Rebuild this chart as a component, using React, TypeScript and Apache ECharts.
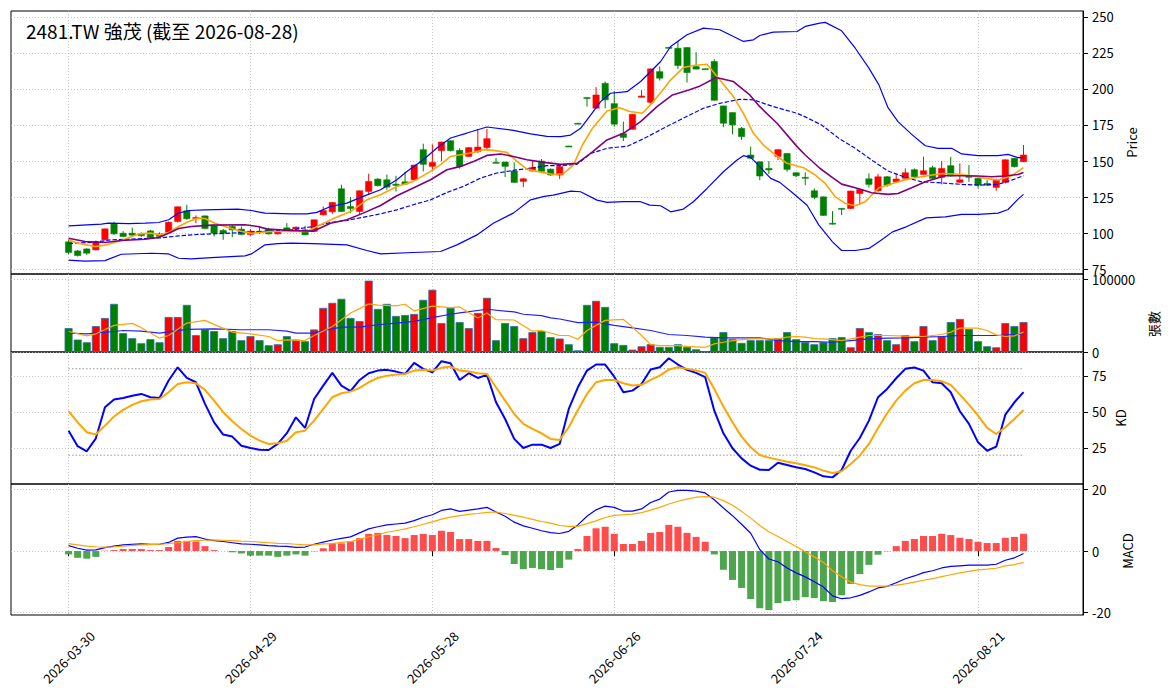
import React, { useEffect, useRef } from 'react';
import * as echarts from 'echarts';

const dates = [
  '2026-03-30', '2026-03-31', '2026-04-01', '2026-04-02', '2026-04-07', '2026-04-08', '2026-04-09', '2026-04-10',
  '2026-04-13', '2026-04-14', '2026-04-15', '2026-04-16', '2026-04-17', '2026-04-20', '2026-04-21', '2026-04-22',
  '2026-04-23', '2026-04-24', '2026-04-27', '2026-04-28', '2026-04-29', '2026-04-30', '2026-05-04', '2026-05-05',
  '2026-05-06', '2026-05-07', '2026-05-08', '2026-05-11', '2026-05-12', '2026-05-13', '2026-05-14', '2026-05-15',
  '2026-05-18', '2026-05-19', '2026-05-20', '2026-05-21', '2026-05-22', '2026-05-25', '2026-05-26', '2026-05-27',
  '2026-05-28', '2026-05-29', '2026-06-01', '2026-06-02', '2026-06-03', '2026-06-04', '2026-06-05', '2026-06-08',
  '2026-06-09', '2026-06-10', '2026-06-11', '2026-06-12', '2026-06-15', '2026-06-16', '2026-06-17', '2026-06-18',
  '2026-06-22', '2026-06-23', '2026-06-24', '2026-06-25', '2026-06-26', '2026-06-29', '2026-06-30', '2026-07-01',
  '2026-07-02', '2026-07-03', '2026-07-06', '2026-07-07', '2026-07-08', '2026-07-09', '2026-07-10', '2026-07-13',
  '2026-07-14', '2026-07-15', '2026-07-16', '2026-07-17', '2026-07-20', '2026-07-21', '2026-07-22', '2026-07-23',
  '2026-07-24', '2026-07-27', '2026-07-28', '2026-07-29', '2026-07-30', '2026-07-31', '2026-08-03', '2026-08-04',
  '2026-08-05', '2026-08-06', '2026-08-07', '2026-08-10', '2026-08-11', '2026-08-12', '2026-08-13', '2026-08-14',
  '2026-08-17', '2026-08-18', '2026-08-19', '2026-08-20', '2026-08-21', '2026-08-24', '2026-08-25', '2026-08-26',
  '2026-08-27', '2026-08-28',
];

const opens = [
  94.0, 87.7, 89.1, 88.4, 95.4, 106.3, 100.0, 100.0, 99.5, 101.6, 99.5, 100.5, 108.1, 115.5, 110.5, 112.0,
  105.1, 101.9, 104.6, 102.8, 99.1, 101.4, 102.8, 99.5, 103.7, 102.8, 102.3, 101.2, 112.7, 114.8, 130.8, 118.5,
  115.0, 128.9, 137.5, 137.0, 134.0, 135.6, 137.0, 157.9, 146.3, 157.2, 164.1, 157.4, 153.2, 156.5, 159.3, 149.1,
  149.3, 143.1, 135.9, 143.1, 150.0, 144.4, 140.3, 160.4, 176.2, 194.0, 186.6, 203.9, 189.8, 169.0, 172.0, 194.2,
  190.7, 212.0, 228.8, 228.2, 228.7, 215.5, 214.0, 219.0, 188.2, 183.6, 172.7, 154.2, 149.5, 144.9, 153.2, 155.3,
  141.9, 138.7, 129.4, 125.2, 106.9, 117.2, 117.1, 127.5, 137.7, 129.4, 139.1, 135.6, 138.0, 144.0, 140.7, 145.4,
  138.7, 146.8, 135.2, 139.6, 138.0, 134.5, 131.7, 135.2, 151.9, 149.5,
];
const closes = [
  86.6, 84.5, 86.1, 94.0, 103.0, 99.5, 97.7, 98.6, 98.2, 96.8, 97.7, 107.6, 118.3, 110.0, 110.9, 103.2,
  100.0, 100.0, 102.3, 99.1, 101.4, 100.5, 99.5, 101.4, 101.4, 104.2, 98.8, 109.3, 115.7, 121.3, 115.0, 117.1,
  129.4, 135.9, 132.9, 131.9, 133.1, 134.0, 147.2, 147.7, 149.1, 163.2, 157.2, 146.3, 159.3, 159.7, 165.5, 148.6,
  146.3, 135.2, 137.7, 145.4, 142.8, 140.3, 146.1, 160.2, 175.9, 193.5, 195.8, 192.4, 175.5, 166.4, 182.4, 195.1,
  213.9, 207.4, 228.6, 216.2, 211.3, 213.7, 213.8, 192.1, 176.2, 175.0, 166.9, 151.9, 139.6, 143.8, 157.9, 144.2,
  139.8, 138.0, 124.8, 112.3, 106.7, 117.1, 129.2, 130.3, 133.8, 139.1, 133.3, 137.5, 141.9, 139.1, 143.3, 138.0,
  144.9, 139.8, 137.0, 138.7, 133.3, 133.3, 136.8, 150.9, 146.1, 154.2,
];
const lows = [
  85.5, 83.8, 85.0, 88.0, 95.0, 98.8, 97.2, 97.7, 97.5, 96.3, 97.2, 100.0, 107.4, 109.3, 106.9, 102.8,
  97.7, 95.4, 97.2, 98.6, 98.1, 99.5, 99.1, 99.1, 100.9, 102.3, 98.6, 101.0, 112.3, 113.4, 114.6, 113.9,
  112.7, 126.6, 132.4, 130.1, 128.9, 133.6, 136.6, 142.8, 142.8, 149.8, 156.7, 144.7, 153.0, 155.6, 157.9, 148.4,
  138.9, 135.0, 131.9, 142.6, 142.1, 139.8, 137.5, 159.9, 175.6, 187.7, 186.6, 186.6, 173.8, 163.9, 171.8, 194.2,
  190.0, 205.8, 228.4, 213.9, 204.4, 213.5, 213.6, 192.0, 173.4, 168.5, 164.6, 151.7, 136.8, 141.0, 150.7, 142.6,
  138.7, 133.3, 123.6, 112.1, 106.0, 112.5, 116.7, 119.9, 131.7, 128.7, 132.2, 135.2, 137.8, 138.9, 140.5, 137.6,
  133.8, 139.2, 134.8, 135.6, 131.0, 132.9, 129.4, 134.5, 145.6, 149.3,
];
const highs = [
  95.5, 88.4, 89.5, 94.9, 103.2, 107.9, 101.4, 103.9, 100.5, 102.3, 100.5, 108.1, 118.5, 119.7, 112.3, 112.3,
  106.0, 103.0, 105.6, 104.6, 102.8, 105.1, 103.7, 102.8, 106.9, 104.6, 105.1, 109.5, 118.5, 121.5, 133.6, 125.0,
  129.6, 141.2, 138.2, 140.7, 139.8, 142.6, 147.4, 162.0, 161.6, 163.4, 164.3, 158.8, 159.7, 172.2, 172.2, 152.1,
  149.5, 149.1, 138.2, 150.0, 151.4, 144.8, 146.5, 160.6, 176.4, 194.2, 201.2, 205.1, 198.6, 177.3, 182.6, 199.1,
  214.1, 215.5, 229.0, 233.3, 228.9, 225.5, 214.2, 220.6, 188.4, 183.8, 173.6, 160.0, 149.7, 150.0, 158.1, 155.5,
  142.1, 142.1, 131.0, 125.4, 115.3, 117.3, 129.4, 130.5, 141.4, 141.0, 139.6, 140.7, 144.9, 144.9, 153.0, 146.8,
  150.0, 153.0, 148.4, 147.2, 138.2, 136.8, 137.9, 151.1, 152.3, 161.1,
];

const volumes = [
  32900, 17100, 13400, 35650, 46800, 66200, 25900, 19000, 12000, 17600, 13400, 48150, 48150, 64800, 23150, 31000,
  28700, 19000, 28700, 16200, 21800, 16200, 9260, 10650, 21800, 17100, 14800, 31000, 60650, 67600, 73150, 46800,
  42600, 98150, 59300, 66200, 49550, 50900, 52300, 71750, 85650, 39800, 60650, 41200, 32900, 53700, 74550, 16200,
  39800, 35650, 19000, 27300, 28700, 20400, 18500, 10650, 2300, 64800, 70400, 62000, 12000, 9700, 3240, 7870,
  10650, 6950, 6950, 10650, 6950, 3700, 600, 19900, 27300, 18000, 12500, 16200, 16200, 16200, 19000, 27300,
  17600, 13400, 10650, 13400, 19000, 20400, 6480, 32900, 27300, 24500, 16200, 10650, 23150, 14800, 35650, 16200,
  21800, 41200, 45400, 31500, 14800, 7870, 6480, 39800, 35650, 41200,
];

// [day index, value]
const bbUpper = [
  [0, 105.1], [3.6, 106.3], [4.4, 107.0], [6.6, 106.6], [8.4, 107.0], [9.9, 107.4], [11, 109.3], [12.1, 113.9],
  [13.2, 115.7], [15, 116.2], [18.6, 116.7], [20.1, 115.7], [21.6, 113.9], [24.5, 113.4], [26.2, 113.4], [27.3, 114.4],
  [28.8, 118.5], [30.6, 120.8], [32.4, 125.5], [34.3, 130.1], [36.1, 137.0], [37.2, 142.8], [39, 150.9], [40.5, 159.0],
  [42, 166.0], [43.8, 169.4], [46, 173.6], [48.9, 171.3], [50.8, 168.8], [52.6, 167.1], [54.1, 166.9], [55.2, 168.0],
  [56.3, 172.7], [57.4, 181.9], [58.5, 191.2], [59.6, 197.0], [61.4, 198.1], [62.9, 205.1], [65.1, 219.0], [66.2, 229.4],
  [68, 237.5], [69.8, 242.1], [71.6, 241.0], [73.1, 236.3], [74.2, 232.9], [75.3, 234.0], [76, 237.0], [77.5, 239.4],
  [80.1, 239.8], [81, 243.3], [82.6, 245.6], [83.2, 246.1], [85, 240.3], [86.5, 228.2], [88, 214.4], [89.1, 202.8],
  [90.1, 187.0], [91.2, 177.3], [92.7, 168.5], [94.2, 160.6], [95.6, 158.8], [97.1, 158.8], [98.2, 154.9], [100, 153.7],
  [102.2, 153.7], [103.3, 154.6], [104.4, 152.3], [105, 152.3],
];
const bbLower = [
  [0, 81.3], [1.8, 80.6], [4, 81.0], [5.8, 85.4], [9.1, 86.1], [11, 85.6], [12.1, 82.6], [13.5, 82.2],
  [15.7, 83.1], [19.4, 84.3], [20.1, 85.6], [21.6, 91.9], [23, 92.8], [24.5, 93.1], [26.9, 92.8], [30.6, 91.9],
  [32.8, 88.0], [34.3, 85.6], [37.9, 86.6], [40.9, 87.3], [42.7, 91.9], [44.9, 98.8], [46.7, 106.9], [48.9, 113.9],
  [50.8, 123.1], [52.3, 125.5], [53.3, 126.4], [55.2, 129.2], [56.3, 128.7], [58.1, 122.9], [59.2, 121.3], [61, 121.8],
  [62.9, 121.8], [63.9, 119.4], [65.1, 119.0], [66.2, 114.8], [67.6, 116.7], [68.7, 121.8], [70.2, 131.0], [72, 142.6],
  [73.5, 150.7], [74.2, 153.7], [75, 152.5], [76, 146.1], [77.2, 138.0], [78.2, 135.2], [79.7, 127.5], [81.2, 119.4],
  [82.5, 105.6], [84, 94.0], [85, 88.0], [86.5, 88.0], [88, 89.4], [89.1, 94.0], [90.6, 100.9], [92.1, 104.4],
  [94.3, 110.6], [96.4, 111.3], [98.2, 113.0], [100, 113.0], [102.2, 113.9], [103.3, 116.4], [104.4, 123.6], [105, 126.9],
];
const bbMid = [
  [0, 92.8], [2.9, 93.8], [4.7, 95.4], [8.4, 96.3], [10.2, 96.8], [12.1, 98.1], [14.2, 99.1], [15.7, 99.5],
  [19.4, 100.5], [24.5, 102.3], [26.9, 104.6], [28.8, 107.4], [30.6, 108.8], [34.3, 113.4], [36.1, 116.2], [37.9, 119.7],
  [39.8, 123.1], [41.6, 128.2], [43.4, 132.4], [45.3, 138.2], [47.1, 141.7], [48.9, 143.5], [50.8, 145.1], [52.6, 146.8],
  [54.1, 146.8], [55.9, 147.7], [57.4, 155.3], [59.2, 158.8], [61.5, 160.4], [63.3, 165.7], [65.4, 172.7], [67.2, 178.5],
  [69.8, 186.6], [71.6, 190.0], [73.8, 192.8], [75.3, 192.4], [77.5, 187.7], [80.1, 183.1], [81, 180.6], [82.8, 175.0],
  [84.7, 165.7], [86.5, 158.8], [88.3, 150.7], [90.1, 143.1], [92, 138.7], [93.8, 135.6], [95.6, 135.0], [98.2, 133.8],
  [100, 133.3], [102.2, 133.8], [103.7, 136.8], [105, 139.8],
];
const ma5 = [
  [0, 95.4], [1, 93.1], [2.9, 90.7], [4, 91.7], [5.8, 94.9], [7.7, 99.5], [9.1, 100.0], [10, 98.8],
  [11, 100.5], [12.1, 104.6], [13.2, 108.1], [14.2, 110.4], [15, 110.2], [16.1, 106.9], [17.2, 104.6], [19, 101.2],
  [20.1, 100.0], [22.3, 101.2], [24.5, 101.2], [26.2, 101.2], [27.3, 104.6], [29.2, 110.4], [31, 115.0], [32.8, 123.1],
  [34.3, 126.6], [36.1, 132.4], [37.9, 135.9], [39.8, 142.8], [40.9, 147.5], [42, 153.2], [43.1, 154.4], [44.6, 156.0],
  [45.6, 157.9], [46.7, 157.4], [48.2, 156.0], [49.3, 149.8], [50.4, 144.4], [51.9, 142.3], [53.3, 140.7], [54.4, 141.2],
  [55.5, 147.2], [56.5, 161.1], [57.6, 172.7], [59.2, 184.7], [60.6, 187.0], [61.7, 184.3], [63.1, 183.1], [64.3, 191.2],
  [65.4, 199.8], [66.2, 206.3], [67.6, 214.8], [68.7, 216.2], [70.2, 217.1], [71.3, 208.6], [73.1, 194.7], [74.2, 183.1],
  [75.3, 169.2], [76.4, 161.1], [77.5, 155.3], [79, 148.4], [80.8, 145.4], [82.1, 140.3], [83.2, 134.5], [84.3, 125.2],
  [85.4, 120.6], [86.5, 119.0], [87.6, 121.8], [89.1, 131.5], [90.6, 134.5], [92.1, 137.3], [93.8, 139.1], [96, 141.4],
  [97.4, 141.0], [99.3, 139.8], [100.8, 138.0], [102.2, 136.8], [103.7, 139.8], [105, 145.4],
];
const ma10 = [
  [0, 96.5], [1.8, 94.2], [4, 93.5], [5.8, 94.9], [8.4, 95.8], [9.9, 97.0], [11, 100.0], [12.1, 103.2],
  [13.5, 104.6], [15.7, 105.6], [19.4, 105.8], [20.8, 104.6], [21.9, 102.8], [24.5, 101.9], [26.9, 101.4], [28.8, 106.9],
  [30.6, 109.3], [32.4, 113.9], [34.3, 119.2], [36.1, 125.9], [37.9, 131.3], [39.8, 137.0], [41.6, 144.0], [43.1, 146.3],
  [44.6, 149.8], [46, 153.9], [47.5, 154.9], [48.9, 153.2], [50.4, 150.9], [52.3, 149.1], [54.1, 147.7], [55.9, 148.4],
  [57.4, 155.3], [59.2, 164.6], [61, 169.2], [62.9, 177.3], [64.7, 187.7], [66.4, 195.8], [68.2, 199.3], [69.3, 201.6],
  [71.2, 207.9], [73.1, 205.1], [74.9, 195.8], [76, 187.7], [77.9, 176.2], [80.1, 160.0], [81, 154.2], [82.6, 145.0],
  [84, 138.5], [85, 134.0], [86.8, 131.0], [88.3, 128.0], [90.1, 126.9], [91.2, 127.5], [92.7, 131.5], [94.2, 135.6],
  [96.4, 139.8], [98.2, 139.8], [100, 139.6], [101.5, 139.1], [102.9, 139.6], [104.4, 140.7], [105, 142.1],
];

const volFast = [
  [0, 28200], [2, 22200], [3, 25000], [5, 36600], [7, 39400], [8, 33300], [10, 19000], [11, 22700],
  [13, 39800], [15, 43500], [16, 38000], [18, 27300], [20, 25000], [22, 21300], [23, 15700], [24, 16700],
  [26, 15700], [27, 22700], [29, 35200], [31, 53700], [32, 59700], [33, 66200], [34, 64400], [36, 63400],
  [37, 65700], [38, 56500], [40, 63000], [42, 61100], [43, 62000], [45, 46800], [46, 53700], [47, 44400],
  [49, 44000], [51, 28700], [52, 29600], [54, 22700], [55, 22700], [56, 17600], [57, 29600], [58, 36600],
  [59, 43500], [61, 44900], [62, 34300], [63, 22700], [64, 10200], [65, 8800], [67, 8800], [68, 7870],
  [70, 6480], [71, 11100], [72, 13400], [73, 15700], [75, 18000], [77, 18000], [78, 18000], [79, 20400],
  [80, 21300], [81, 20400], [82, 18500], [83, 18000], [85, 15700], [87, 20400], [88, 22700], [90, 22700],
  [92, 21800], [94, 21300], [96, 24100], [97, 27300], [98, 32900], [99, 32900], [100, 32900], [101, 29600],
  [102, 23600], [103, 21300], [104, 22200], [105, 27300],
];
const volSlow = [
  [0, 25900], [2, 25000], [5, 28200], [6, 29600], [8, 28700], [10, 25900], [13, 31000], [16, 31900],
  [19, 30600], [22, 30600], [24, 28700], [25, 25900], [27, 25900], [28, 29600], [30, 34300], [32, 34300],
  [34, 37500], [36, 39800], [38, 42100], [40, 47200], [42, 51900], [43, 53700], [46, 58800], [49, 55100],
  [50, 51900], [52, 50000], [53, 47000], [54, 45400], [56, 40300], [58, 41200], [60, 36600], [62, 33300],
  [64, 29600], [66, 24100], [68, 22700], [70, 20400], [72, 19400], [74, 19400], [76, 19400], [78, 15700],
  [80, 14400], [82, 14400], [84, 13400], [86, 15700], [88, 18000], [90, 19000], [92, 19400], [94, 20400],
  [96, 21300], [98, 22700], [100, 22700], [102, 22700], [104, 24100], [105, 25000],
];

const kValues = [
  37.0, 26.2, 22.7, 31.7, 53.2, 58.6, 59.7, 61.3, 62.5, 60.2, 59.7, 71.8, 81.0, 73.6, 70.6, 55.6,
  42.8, 34.3, 32.9, 26.6, 25.0, 23.8, 23.6, 27.8, 35.3, 46.3, 38.9, 59.0, 68.3, 77.1, 68.3, 64.4,
  72.2, 76.9, 78.7, 79.2, 78.0, 76.4, 84.0, 79.9, 77.5, 85.2, 83.8, 72.2, 76.9, 73.6, 75.7, 56.7,
  45.1, 31.3, 25.0, 27.3, 27.3, 25.0, 27.8, 52.1, 67.1, 78.7, 82.9, 82.9, 74.5, 63.7, 64.8, 69.4,
  79.4, 81.0, 87.3, 82.9, 79.2, 77.1, 74.1, 50.9, 35.2, 24.8, 17.8, 12.7, 9.9, 9.7, 14.8, 13.2,
  11.6, 10.4, 8.1, 5.3, 4.6, 9.7, 23.1, 31.9, 44.0, 60.2, 66.0, 73.4, 79.9, 80.8, 78.7, 70.6,
  69.9, 63.7, 50.5, 41.7, 28.9, 23.1, 25.9, 48.1, 56.7, 63.7,
];
const dValues = [
  50.5, 42.8, 35.9, 34.3, 40.5, 46.8, 51.4, 54.9, 57.4, 58.6, 59.0, 63.7, 69.4, 70.6, 69.9, 65.3,
  57.9, 49.8, 43.5, 38.2, 33.6, 30.1, 27.8, 28.2, 30.0, 35.9, 37.0, 44.0, 52.1, 60.2, 63.0, 64.1,
  66.7, 70.6, 73.6, 75.2, 75.9, 76.4, 78.7, 79.2, 78.7, 80.6, 81.5, 78.7, 78.0, 76.9, 76.4, 67.1,
  57.9, 48.6, 41.7, 38.2, 35.2, 31.3, 30.6, 39.4, 51.4, 62.5, 70.6, 72.2, 72.2, 69.9, 68.3, 68.8,
  72.2, 75.2, 79.4, 81.0, 79.9, 78.7, 77.1, 66.0, 53.7, 42.8, 32.9, 25.5, 20.1, 18.3, 16.9, 15.5,
  14.4, 13.0, 11.5, 9.3, 7.6, 8.8, 13.9, 19.7, 27.8, 38.7, 49.1, 57.9, 64.8, 69.9, 72.2, 72.2,
  71.3, 68.8, 62.0, 55.1, 47.5, 38.9, 34.7, 39.4, 45.1, 51.4,
];

const difValues = [
  1.75, 0.9, 0.3, 0.4, 1.1, 1.6, 2.0, 2.2, 2.3, 2.2, 2.2, 2.8, 4.2, 4.5, 4.7, 3.9,
  3.4, 3.1, 2.7, 2.3, 2.2, 2.0, 1.75, 1.6, 1.5, 1.2, 1.3, 2.2, 2.9, 3.6, 4.1, 4.6,
  5.9, 7.2, 7.9, 8.5, 8.8, 9.1, 9.9, 11.0, 11.8, 13.2, 13.7, 12.9, 13.3, 13.7, 14.2, 12.7,
  11.3, 9.4, 8.2, 7.4, 6.6, 6.0, 5.7, 6.4, 8.5, 11.3, 13.4, 14.6, 14.2, 13.0, 13.0, 13.7,
  15.8, 16.9, 19.2, 19.7, 19.7, 19.5, 18.9, 16.7, 14.0, 11.5, 8.7, 5.8, 0.5, -2.6, -3.5, -5.5,
  -7.1, -8.4, -10.0, -11.7, -14.6, -15.5, -15.2, -14.4, -13.3, -12.0, -11.5, -10.3, -9.0, -8.1, -7.0, -6.4,
  -5.5, -5.0, -4.8, -4.6, -4.6, -4.6, -4.3, -3.0, -2.2, -0.8,
];
const deaValues = [
  2.4, 2.0, 1.6, 1.4, 1.3, 1.4, 1.6, 1.8, 2.0, 2.1, 2.2, 2.4, 2.7, 3.1, 3.4, 3.5,
  3.6, 3.5, 3.4, 3.2, 3.1, 2.9, 2.7, 2.5, 2.4, 2.2, 2.0, 2.0, 2.3, 2.4, 2.8, 3.1,
  3.8, 4.6, 5.3, 6.1, 6.6, 7.2, 7.9, 8.7, 9.5, 10.4, 11.0, 11.5, 11.9, 12.2, 12.6, 12.7,
  12.2, 11.6, 11.0, 10.3, 9.6, 9.1, 8.3, 8.0, 8.0, 8.9, 9.8, 10.9, 11.6, 11.8, 12.0, 12.5,
  13.3, 14.2, 15.3, 16.2, 16.9, 17.5, 17.7, 17.5, 16.4, 14.9, 12.9, 10.7, 8.3, 6.3, 4.7, 3.1,
  1.5, -0.2, -1.9, -3.7, -6.4, -8.4, -10.1, -10.9, -11.4, -11.4, -11.4, -11.1, -10.7, -10.1, -9.5, -9.0,
  -8.3, -7.7, -7.1, -6.6, -6.1, -5.9, -5.6, -4.8, -4.4, -3.7,
];
const histValues = [
  -1.1, -2.2, -2.5, -1.9, 0.1, 0.3, 0.65, 0.65, 0.65, 0.3, 0.3, 1.3, 3.3, 3.3, 3.1, 1.6,
  0.3, 0.0, -0.4, -0.8, -1.5, -1.5, -1.5, -1.9, -1.5, -1.1, -1.5, -0.1, 0.9, 2.5, 2.5, 3.1,
  4.2, 5.6, 5.9, 5.2, 4.9, 4.2, 5.2, 5.6, 5.2, 6.6, 6.2, 3.9, 3.9, 3.3, 3.3, 1.0,
  -1.3, -4.2, -5.9, -5.5, -5.9, -6.2, -5.5, -2.8, 0.65, 4.9, 7.4, 7.9, 5.6, 2.3, 2.3, 3.3,
  5.9, 6.2, 8.5, 7.9, 5.9, 4.6, 3.0, -1.1, -6.1, -9.4, -12.0, -15.6, -18.6, -19.2, -16.9, -16.3,
  -16.0, -15.0, -15.3, -16.3, -16.6, -14.4, -10.7, -7.5, -4.5, -1.2, -0.1, 1.6, 3.3, 3.9, 4.9, 4.9,
  5.6, 5.2, 4.3, 3.9, 3.0, 2.6, 2.6, 4.3, 4.6, 5.6,
];

const dateTicks = [0, 20, 40, 60, 80, 100];
const priceTicks = [75, 100, 125, 150, 175, 200, 225, 250];
const volumeTicks = [0, 100000];
const kdTicks = [25, 50, 75];
const kdBands = [20, 80];
const macdTicks = [-20, 0, 20];

const UP = '#ff0000';
const DOWN = '#008000';
const FONT = "'Noto Sans CJK TC', 'Noto Sans', sans-serif";
const GRID_LINE = { color: '#b8b8b8', type: [1, 2], width: 0.8 };

export default function App() {
  const ref = useRef<HTMLDivElement>(null);

  useEffect(() => {
    if (!ref.current) return;
    const chart = echarts.init(ref.current, null, { renderer: 'svg' });

    const panels = [
      { top: 11, height: 263, min: 71.7, max: 254, ticks: priceTicks },
      { top: 274, height: 78, min: 0, max: 107300, ticks: volumeTicks },
      { top: 352, height: 132, min: 0, max: 91.6, ticks: kdTicks },
      { top: 484, height: 131, min: -20.8, max: 21.8, ticks: macdTicks },
    ];
    const last = dates.length - 1;
    const isUp = (i: number) => closes[i] >= opens[i];

    const line = (data: number[][], grid: number, color: string, width: number, type: any = 'solid') => ({
      type: 'line',
      xAxisIndex: grid,
      yAxisIndex: grid,
      data,
      showSymbol: false,
      symbol: 'none',
      z: 4,
      lineStyle: { color, width, type },
    });

    chart.setOption({
      animation: false,
      backgroundColor: '#ffffff',
      textStyle: { fontFamily: FONT },
      title: {
        text: '2481.TW 強茂 (截至 2026-08-28)',
        left: 26,
        top: 21,
        padding: 0,
        textStyle: { fontSize: 19, fontWeight: 'normal', color: '#000', fontFamily: FONT },
      },
      grid: panels.map((p) => ({
        left: 11,
        width: 1072,
        top: p.top,
        height: p.height,
        show: true,
        borderColor: '#000',
        borderWidth: 1,
      })),
      xAxis: panels.map((_, gi) => ({
        type: 'value',
        gridIndex: gi,
        min: -6.33,
        max: 111.54,
        axisLine: { show: false },
        axisTick: {
          show: gi === 3,
          customValues: dateTicks,
          length: 5,
          lineStyle: { color: '#000' },
        },
        axisLabel: {
          show: gi === 3,
          customValues: dateTicks,
          formatter: (v: number) => dates[v] ?? '',
          rotate: 45,
          align: 'center',
          verticalAlign: 'middle',
          margin: 42,
          fontSize: 13,
          color: '#000',
          fontFamily: FONT,
        },
        splitLine: { show: true, lineStyle: GRID_LINE },
      })),
      yAxis: panels.map((p, gi) => ({
        type: 'value',
        gridIndex: gi,
        position: 'right',
        min: p.min,
        max: p.max,
        axisLine: { show: true, onZero: false, lineStyle: { color: '#000' } },
        axisTick: { show: true, customValues: p.ticks, length: 5, lineStyle: { color: '#000' } },
        axisLabel: {
          customValues: p.ticks,
          formatter: (v: number) => String(v),
          margin: 9,
          fontSize: 13,
          color: '#000',
          fontFamily: FONT,
        },
        splitLine: { show: true, lineStyle: GRID_LINE },
      })),
      graphic: [
        { name: 'Price', x: 1131, y: 142.5 },
        { name: '張數', x: 1153, y: 324 },
        { name: 'KD', x: 1120.5, y: 418 },
        { name: 'MACD', x: 1127.5, y: 551 },
      ].map((n) => ({
        type: 'text',
        x: n.x,
        y: n.y,
        rotation: Math.PI / 2,
        style: {
          text: n.name,
          fontSize: 13,
          fill: '#000',
          fontFamily: FONT,
          textAlign: 'center',
          textVerticalAlign: 'middle',
        },
      })),
      series: [
        {
          type: 'custom',
          xAxisIndex: 0,
          yAxisIndex: 0,
          z: 2,
          encode: { x: 0, y: [1, 2, 3, 4] },
          data: dates.map((_, i) => [i, opens[i], closes[i], lows[i], highs[i]]),
          renderItem: (params: any, api: any) => {
            const x = api.value(0);
            const o = api.value(1);
            const c = api.value(2);
            const color = c >= o ? UP : DOWN;
            const top = api.coord([x, Math.max(o, c)]);
            const bottom = api.coord([x, Math.min(o, c)]);
            const hi = api.coord([x, api.value(4)]);
            const lo = api.coord([x, api.value(3)]);
            const w = api.size([0.7, 0])[0];
            return {
              type: 'group',
              children: [
                {
                  type: 'line',
                  shape: { x1: hi[0], y1: hi[1], x2: lo[0], y2: lo[1] },
                  style: { stroke: color, lineWidth: 1 },
                },
                {
                  type: 'rect',
                  shape: { x: top[0] - w / 2, y: top[1], width: w, height: Math.max(bottom[1] - top[1], 1) },
                  style: { fill: color, stroke: color, lineWidth: 0.5 },
                },
              ],
            };
          },
        },
        line(bbUpper, 0, '#0000ff', 1.2),
        line(bbLower, 0, '#0000ff', 1.2),
        line(bbMid, 0, '#0000ff', 1.2, [4.4, 1.9]),
        line(ma5, 0, '#ffa500', 1.6),
        line(ma10, 0, '#800080', 1.6),
        {
          type: 'bar',
          xAxisIndex: 1,
          yAxisIndex: 1,
          barWidth: 8,
          z: 2,
          data: volumes.map((v, i) => ({
            value: [i, v],
            itemStyle: { color: isUp(i) ? UP : DOWN, borderColor: '#2f6fa6', borderWidth: 0.8 },
          })),
        },
        line(volSlow, 1, '#2020ff', 1.2),
        line(volFast, 1, '#ffa500', 1.2),
        ...kdBands.map((b) => ({
          ...line([[0, b], [last, b]], 2, '#8c8c8c', 0.9, [1.5, 2]),
          z: 3,
        })),
        line(kValues.map((v, i) => [i, v]), 2, '#0000ff', 2),
        line(dValues.map((v, i) => [i, v]), 2, '#ffa500', 2),
        {
          type: 'bar',
          xAxisIndex: 3,
          yAxisIndex: 3,
          barWidth: 7,
          z: 2,
          data: histValues.map((v, i) => ({
            value: [i, v],
            itemStyle: { color: v >= 0 ? '#ff4d4d' : '#4da64d' },
          })),
        },
        line(difValues.map((v, i) => [i, v]), 3, '#0000ff', 1.2),
        line(deaValues.map((v, i) => [i, v]), 3, '#ffa500', 1.2),
      ],
    });

    return () => chart.dispose();
  }, []);

  return <div ref={ref} style={{ position: 'absolute', left: 0, top: 0, width: 1171, height: 700 }} />;
}
